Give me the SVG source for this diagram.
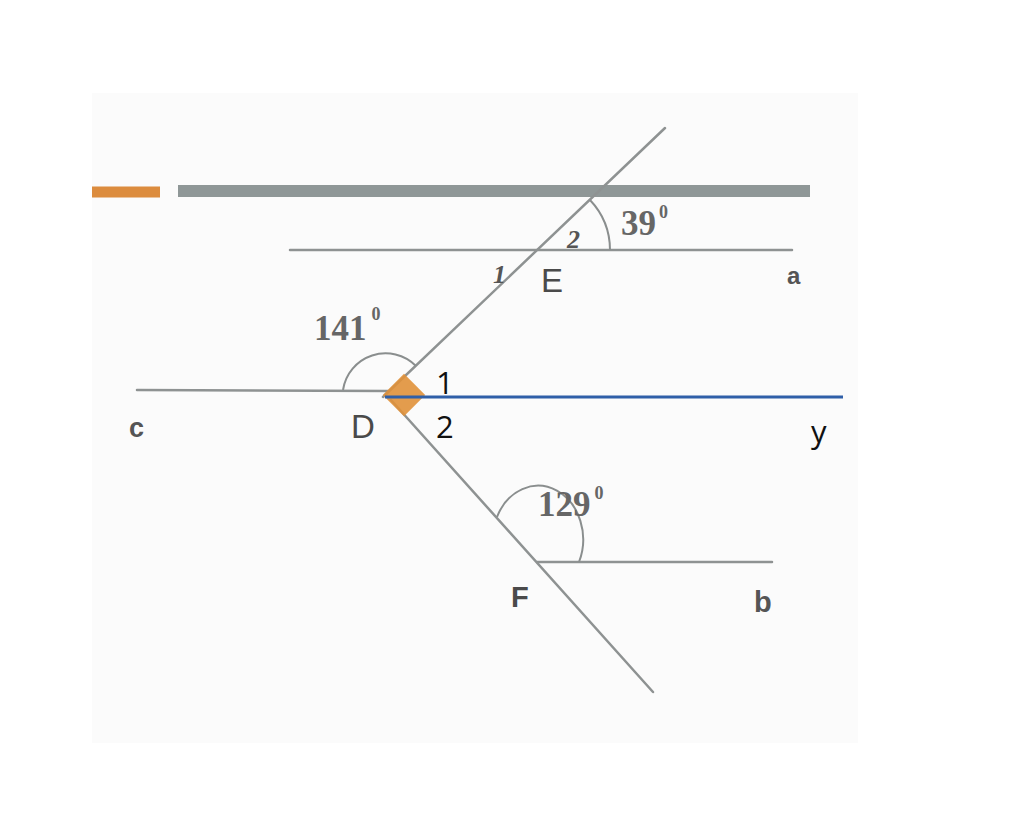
<svg xmlns="http://www.w3.org/2000/svg" width="1024" height="829" viewBox="0 0 1024 829">
<style>
.ln{stroke:#8e9292;stroke-width:2.5;fill:none;stroke-linecap:round}
.arc{stroke:#8a8e8e;stroke-width:2;fill:none}
.deg{font-family:"Liberation Serif",serif;font-weight:bold;font-size:35px;fill:#666}
.sup{font-size:18px}
.pt{font-family:"Liberation Sans",sans-serif;font-size:33px;fill:#4a4a4a}
.sm{font-family:"Liberation Sans",sans-serif;font-weight:bold;font-size:26px;fill:#555}
.it{font-family:"Liberation Serif",serif;font-style:italic;font-weight:bold;font-size:26px;fill:#555}
.blk{font-family:"Open Sans","Liberation Sans",sans-serif;font-size:31px;fill:#111}
</style>
<rect width="1024" height="829" fill="#ffffff"/>
<rect x="92" y="93" width="766" height="650" fill="#fbfbfb"/>
<g id="connectors">
<line x1="92" y1="192" x2="160" y2="192" stroke="#dc8c3e" stroke-width="11"/>
<line x1="178" y1="191" x2="810" y2="191" stroke="#8f9797" stroke-width="12"/>
<line class="ln" x1="290" y1="250" x2="792" y2="250"/>
<line class="ln" x1="137" y1="390" x2="388" y2="391"/>
<line class="ln" x1="383" y1="397" x2="665" y2="128"/>
<line class="ln" x1="391" y1="400" x2="653" y2="692"/>
<line class="ln" x1="537" y1="562" x2="772" y2="562"/>
<path class="arc" d="M 610 250 A 73 73 0 0 0 590 200"/>
<path class="arc" d="M 343 390 A 43 43 0 0 1 416 366"/>
<path class="arc" d="M 579 562 A 42 50 0 0 0 497 517"/>
</g>
<g id="D">
<rect x="389" y="380" width="30" height="30" fill="#e0913a" fill-opacity="0.9" transform="rotate(45 404 395)"/>
<line x1="385" y1="397" x2="843" y2="397" stroke="#2f5fa8" stroke-width="3"/>
<text class="pt" x="351" y="438">D</text>
<text class="blk" x="436" y="394">1</text>
<text class="blk" x="436" y="438">2</text>
</g>
<g id="E">
<text class="pt" x="541" y="292">E</text>
<text class="it" x="567" y="248">2</text>
<text class="it" x="493" y="283">1</text>
<text class="deg" x="621" y="235">39<tspan class="sup" dx="3" dy="-17">0</tspan></text>
</g>
<g id="angle141">
<text class="deg" x="314" y="340">141<tspan class="sup" dx="5" dy="-20">0</tspan></text>
</g>
<g id="F">
<text class="pt" x="511" y="607" style="font-weight:bold;font-size:29px">F</text>
<text class="deg" x="538" y="516">129<tspan class="sup" dx="4" dy="-17">0</tspan></text>
</g>
<g id="labels">
<text class="sm" x="787" y="284" style="font-size:24px">a</text>
<text class="sm" x="129" y="437" style="font-size:27px">c</text>
<text class="sm" x="754" y="612" style="font-size:29px">b</text>
<text class="blk" x="811" y="443">y</text>
</g>
</svg>
